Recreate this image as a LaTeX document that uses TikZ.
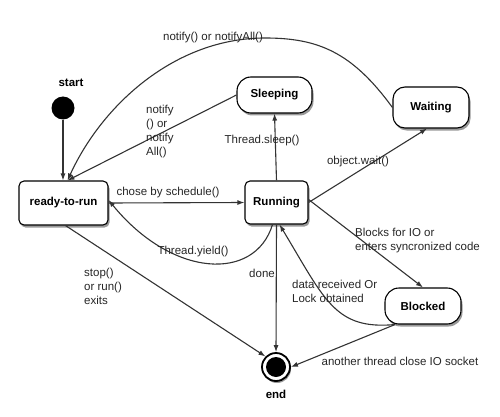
\documentclass[tikz,border=0pt]{standalone}
\usepackage{fontspec}
\setmainfont{Liberation Sans}
\usetikzlibrary{arrows.meta,shadows}
\begin{document}
\begin{tikzpicture}[x=1pt,y=-1pt,
  every node/.style={font=\fontsize{11.5}{14}\selectfont, inner sep=0pt},
  state/.style={draw, line width=1.1pt, fill=white, font=\fontsize{11.5}{14}\selectfont\bfseries,
    drop shadow={shadow xshift=1.5pt, shadow yshift=-2.5pt, opacity=0.4, fill=black}},
  lbl/.style={align=left, text=black!85},
  arr/.style={line width=1.1pt, draw=black!80, -{Latex[length=7pt,width=5pt]}}]
\useasboundingbox (0,0) rectangle (500,417);

% states
\node[circle, fill=black, minimum size=23pt] (start) at (63,108) {};
\node[font=\fontsize{11.5}{14}\selectfont\bfseries] (startl) at (71,83) {start};
\node[state, rounded corners=5pt, minimum width=89pt, minimum height=44pt] (ready) at (63.5,203) {ready-to-run};
\node[state, rounded corners=5pt, minimum width=63pt, minimum height=43pt] (run) at (276.5,202.5) {Running};
\node[state, rounded corners=14pt, minimum width=75pt, minimum height=36pt] (sleep) at (274.5,95) {Sleeping};
\node[state, rounded corners=12pt, minimum width=76pt, minimum height=41pt] (wait) at (431,107.5) {Waiting};
\node[state, rounded corners=14pt, minimum width=76pt, minimum height=36pt] (block) at (423,306) {Blocked};
\node[circle, draw, line width=1.8pt, fill=white, minimum size=28pt,
  drop shadow={shadow xshift=1pt, shadow yshift=-2pt, opacity=0.4, fill=black}] (end) at (276,367) {};
\node[circle, fill=black, minimum size=20pt] (endin) at (end.center) {};
\node[font=\fontsize{11.5}{14}\selectfont\bfseries] (endl) at (276,394) {end};

% helper coordinates
\coordinate (rtop) at ([xshift=4pt]ready.north);

% connectors
\draw[arr] (start) -- (start.south |- ready.north);
\draw[arr] (wait.west) .. controls (352,52) and (318,38) .. (265,38)
   .. controls (175,38) and (102,105) .. (rtop);
\draw[arr] (sleep.west) -- (rtop);
\draw[arr] (ready.east) -- (run.west);
\draw[arr] ([xshift=-4pt]run.south) .. controls (255,282) and (172,278) .. ([yshift=3pt]ready.east);
\draw[arr] (run.north) -- (sleep.south);
\draw[arr] (run.east) -- ([xshift=-4pt]wait.south);
\draw[arr] ([yshift=3pt]run.east) -- (block.north);
\draw[arr] ([xshift=-28pt]block.south) .. controls (335,330) and (325,300) .. ([xshift=3pt]run.south);
\draw[arr] (run.south) -- (end.north);
\draw[arr] ([xshift=2pt]ready.south) -- (end.north west);
\draw[arr] ([xshift=-28pt]block.south) -- (end.east);

% labels
\node[lbl] (l1) at (213,38) {notify() or notifyAll()};
\node[lbl, anchor=west] (l2) at (146,131.5) {notify\\() or\\notify\\All()};
\node[lbl] (l3) at (168,193) {chose by schedule()};
\node[lbl] (l4) at (193,252) {Thread.yield()};
\node[lbl] (l5) at (262,141) {Thread.sleep()};
\node[lbl] (l6) at (358,162) {object.wait()};
\node[lbl, anchor=west] (l7) at (355,241) {Blocks for IO or\\enters syncronized code};
\node[lbl, anchor=west] (l8) at (292,291) {data received Or\\Lock obtained};
\node[lbl] (l9) at (262,273) {done};
\node[lbl, anchor=west] (l10) at (84,286) {stop()\\or run()\\exits};
\node[lbl] (l11) at (400,361) {another thread close IO socket};
\end{tikzpicture}
\end{document}
